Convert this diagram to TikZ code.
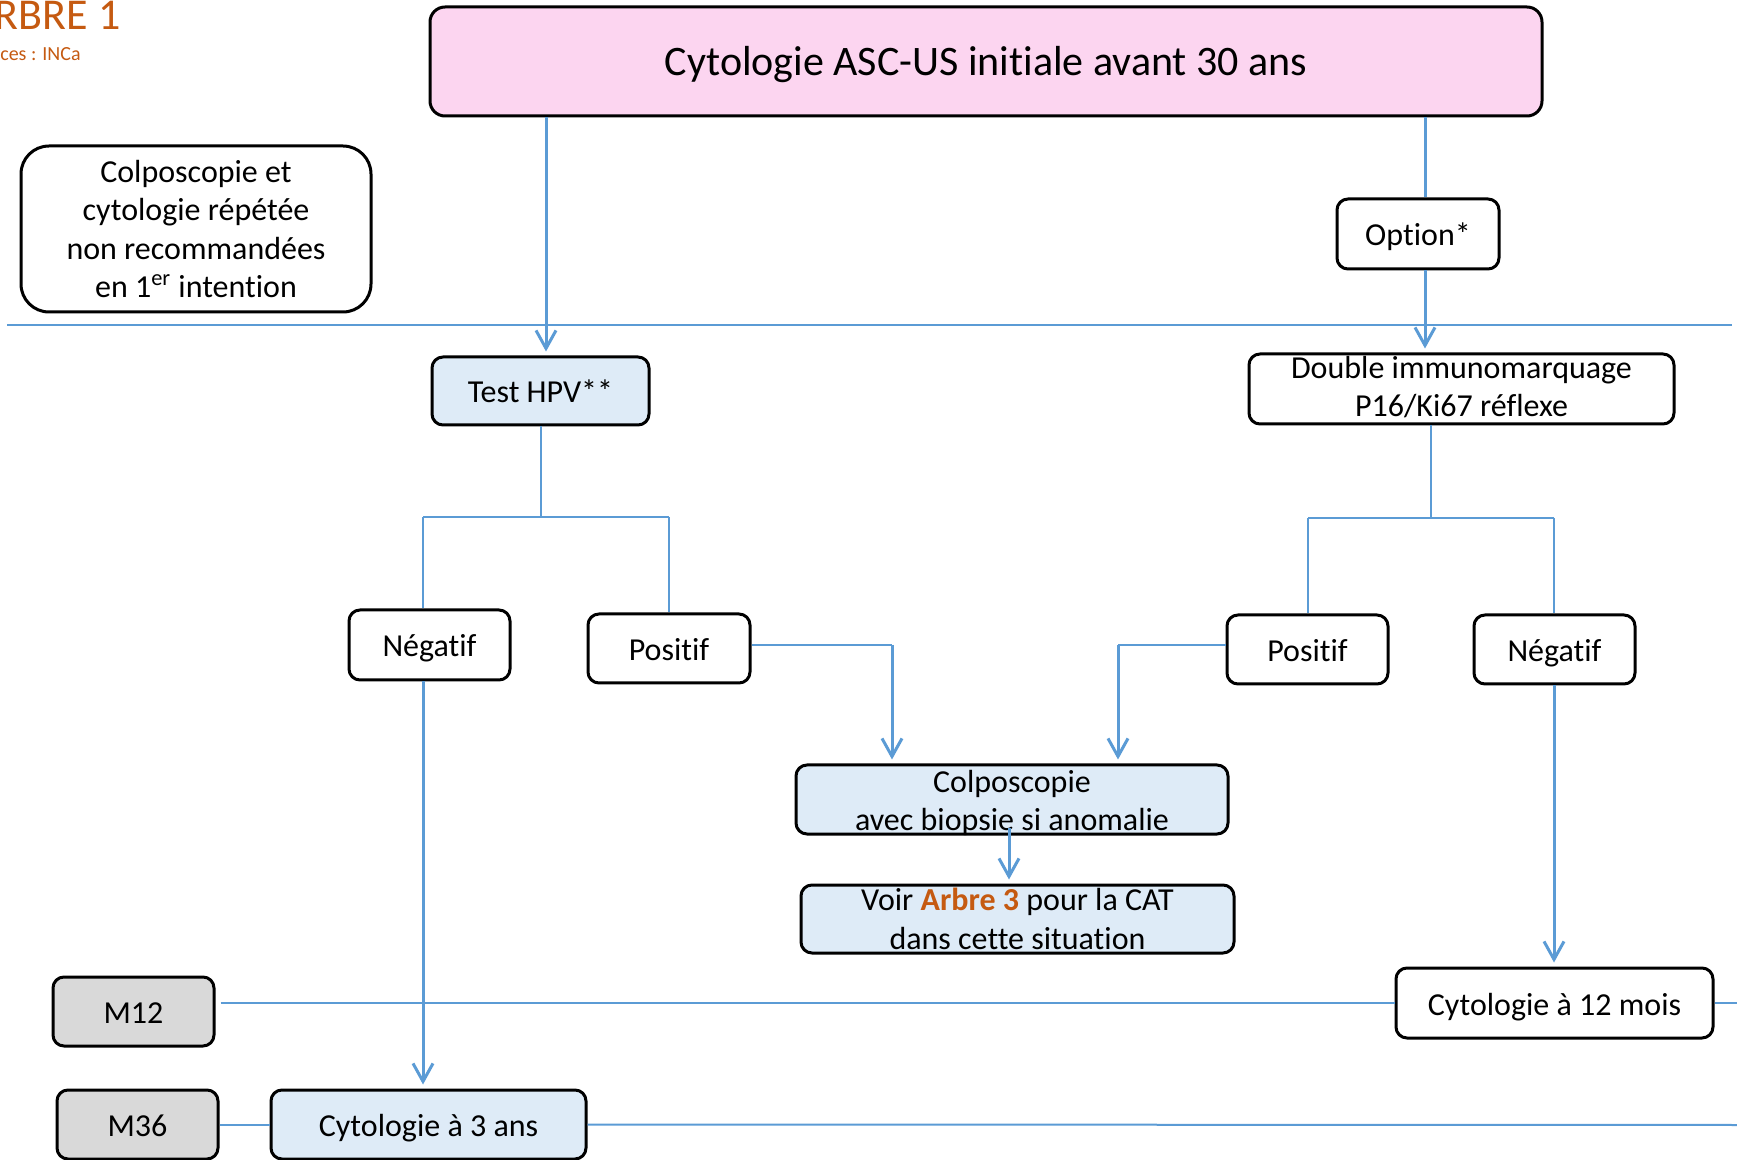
\documentclass[tikz,border=0pt]{standalone}
\usepackage{fontspec}
\setmainfont{Carlito}[Ligatures=CommonOff]
\usetikzlibrary{arrows.meta}
\definecolor{lineblue}{RGB}{91,155,213}
\definecolor{boxblue}{RGB}{222,235,247}
\definecolor{titlepink}{RGB}{252,213,240}
\definecolor{boxgrey}{RGB}{217,217,217}
\definecolor{arbreorange}{RGB}{197,90,17}
\begin{document}
\begin{tikzpicture}[x=0.5pt,y=-0.5pt,
  box/.style={draw=black, line width=1.5pt, rounded corners=5.5pt, inner sep=0pt, align=center,
    font=\fontsize{16}{19.3}\selectfont},
  one/.style={text height=12pt, text depth=0pt},
  plain/.style={inner sep=0pt, align=center, font=\fontsize{16}{19.3}\selectfont},
  arr/.style={draw=lineblue, line width=1.5pt, shorten >=2pt,
    -{Straight Barb[length=9pt,width=10pt]}},
  arrline/.style={draw=lineblue, line width=1.5pt},
  treeline/.style={draw=lineblue, line width=0.8pt},
  timeline/.style={draw=lineblue, line width=1pt}]
\useasboundingbox (0,0) rectangle (1737,1160);

% header texts
\node[anchor=base west, inner sep=0pt, text=arbreorange, font=\fontsize{22}{26}\selectfont] (arbre) at (-31,30) {ARBRE 1};
\node[anchor=base west, inner sep=0pt, text=arbreorange, font=\fontsize{10}{12}\selectfont] (src) at (-37,61) {Sources : INCa};

% boxes
\node[box, fill=titlepink, rounded corners=7.5pt, minimum width=556pt, minimum height=54.5pt,
  font=\fontsize{21}{25}\selectfont, text height=14pt, text depth=0pt] (title) at (986,61.5) {Cytologie ASC-US initiale avant 30 ans};
\node[box, rounded corners=14pt, minimum width=175pt, minimum height=83pt,
  font=\fontsize{16}{19.2}\selectfont] (left) at (196,229)
  {Colposcopie et\\cytologie répétée\\non recommandées\\en 1\textsuperscript{er} intention};
\node[box, one, minimum width=81pt, minimum height=35pt] (option) at (1418,234) {Option*};
\node[box, minimum width=212.5pt, minimum height=35pt] (double) at (1461.5,389) {};
\node[plain] (doubleT) at ([yshift=1pt]double.center) {Double immunomarquage\\P16/Ki67 réflexe};
\node[box, one, fill=boxblue, minimum width=108.5pt, minimum height=34pt] (hpv) at (540.5,391) {Test HPV**};
\node[box, one, minimum width=80.5pt, minimum height=35pt] (neg1) at (429.5,645) {Négatif};
\node[box, one, minimum width=81pt, minimum height=34.5pt] (pos1) at (669,648.5) {Positif};
\node[box, fill=boxblue, minimum width=216pt, minimum height=34.5pt] (colpo) at (1012,799.5) {};
\node[plain] (colpoT) at ([yshift=-1.75pt]colpo.center) {Colposcopie\\avec biopsie si anomalie};
\node[box, fill=boxblue, minimum width=216.5pt, minimum height=34pt] (voir) at (1017.5,919)
  {Voir \textcolor{arbreorange}{\textbf{Arbre 3}} pour la CAT\\dans cette situation};
\node[box, one, minimum width=80.5pt, minimum height=34.5pt] (pos2) at (1307.5,649.5) {Positif};
\node[box, one, minimum width=80.5pt, minimum height=34.5pt] (neg2) at (1554.5,649.5) {Négatif};
\node[box, one, minimum width=158.5pt, minimum height=35pt] (cyto12) at (1554.5,1003) {Cytologie à 12 mois};
\node[box, one, fill=boxgrey, minimum width=80.5pt, minimum height=34.5pt] (m12) at (133.5,1011.5) {M12};
\node[box, one, fill=boxgrey, minimum width=80.5pt, minimum height=34.5pt] (m36) at (137.5,1124.5) {M36};
\node[box, one, fill=boxblue, minimum width=157.5pt, minimum height=34.5pt] (cyto3) at (428.5,1124.5) {Cytologie à 3 ans};

% separator
\coordinate (sepL) at (7,325);
\coordinate (sepR) at (1732,325);
\draw[treeline] (sepL) -- (sepR);

% helper coordinates
\coordinate (c1) at (546,0);
\coordinate (c2) at (1425,0);
\coordinate (j1) at (541,517);
\coordinate (t1L) at (423,517);
\coordinate (t1R) at (669,517);
\coordinate (k1) at (892,645);
\coordinate (c4) at (1009,828);
\coordinate (j2) at (1431,518);
\coordinate (t2L) at (1308,518);
\coordinate (t2R) at (1554,518);
\coordinate (k2) at (1118,645);
\coordinate (r1) at (1737,1003);
\coordinate (r2) at (1737,1125);

% connectors
\draw[arr] (title.south -| c1) -- (hpv.north -| c1);
\draw[arrline] (title.south -| c2) -- (option.north -| c2);
\draw[arr] (option.south -| c2) -- (double.north -| c2);

\draw[treeline] (hpv.south -| j1) -- (j1);
\draw[treeline] (t1L) -- (t1R);
\draw[treeline] (t1L) -- (t1L |- neg1.north);
\draw[treeline] (t1R) -- (t1R |- pos1.north);
\draw[arr] (neg1.south -| t1L) -- (cyto3.north -| t1L);
\draw[treeline] (pos1.east |- k1) -- (k1);
\draw[arr] (k1) -- (colpo.north -| k1);
\draw[arr] (c4) -- (voir.north -| c4);

\draw[treeline] (double.south -| j2) -- (j2);
\draw[treeline] (t2L) -- (t2R);
\draw[treeline] (t2L) -- (t2L |- pos2.north);
\draw[treeline] (t2R) -- (t2R |- neg2.north);
\draw[treeline] (pos2.west |- k2) -- (k2);
\draw[arr] (k2) -- (colpo.north -| k2);
\draw[arr] (neg2.south -| t2R) -- (cyto12.north -| t2R);

% time lines
\draw[timeline, shorten <=2.5pt] (m12.east |- cyto12.west) -- (cyto12.west);
\draw[timeline] (cyto12.east) -- (r1);
\draw[timeline] (m36.east |- cyto3.west) -- (cyto3.west);
\draw[timeline] (cyto3.east) -- (r2);
\end{tikzpicture}
\end{document}
